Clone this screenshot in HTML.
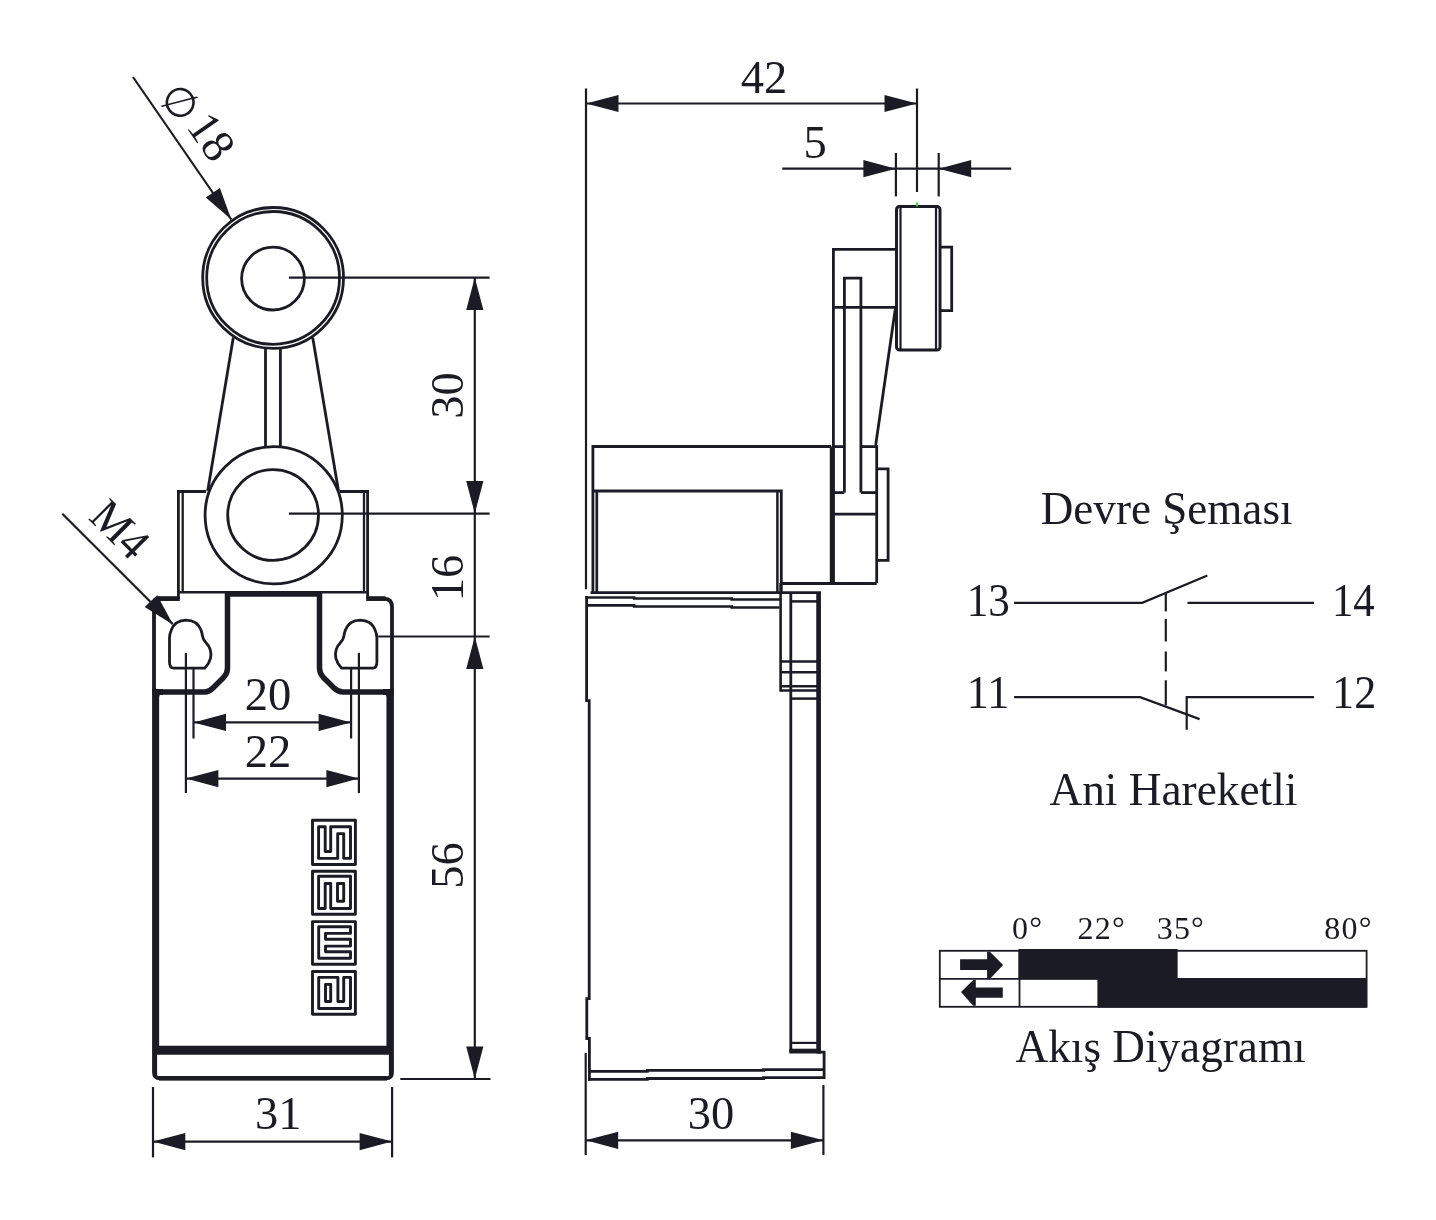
<!DOCTYPE html>
<html><head><meta charset="utf-8"><title>Limit switch</title>
<style>
html,body{margin:0;padding:0;background:#fff;}
svg{display:block;will-change:transform;}
svg text{font-family:"Liberation Serif",serif;fill:#1b1b25;stroke:none;}
</style></head><body>
<svg width="1436" height="1220" viewBox="0 0 1436 1220" stroke="#1b1b25" stroke-linecap="butt" stroke-linejoin="miter">
<rect x="0" y="0" width="1436" height="1220" fill="#fff" stroke="none"/>
<g id="front">
<circle cx="273.1" cy="277.9" r="70.4" stroke-width="2.8" fill="none"/>
<circle cx="273.1" cy="277.9" r="66.4" stroke-width="2.8" fill="none"/>
<circle cx="273" cy="278.6" r="31.4" stroke-width="2.8" fill="none"/>
<line x1="233.3" y1="337.5" x2="207.7" y2="491" stroke-width="2.8" />
<line x1="312.7" y1="337.5" x2="338.5" y2="491" stroke-width="2.8" />
<line x1="265.5" y1="347" x2="265.5" y2="447" stroke-width="2.8" />
<line x1="280.4" y1="347" x2="280.4" y2="447" stroke-width="2.8" />
<circle cx="273.7" cy="515.2" r="68.6" stroke-width="2.8" fill="none"/>
<circle cx="273.1" cy="515" r="45.4" stroke-width="2.8" fill="none"/>
<polyline points="206,491.5 178.4,491.5 178.4,599" stroke-width="2.8" fill="none" />
<line x1="182.7" y1="491.5" x2="182.7" y2="592" stroke-width="2.3" />
<polyline points="340,491.5 367.6,491.5 367.6,599" stroke-width="2.8" fill="none" />
<line x1="364" y1="491.5" x2="364" y2="592" stroke-width="2.3" />
<line x1="178.4" y1="592.2" x2="367.6" y2="592.2" stroke-width="2.6" />
<path d="M179,598.6 H158.5 Q154,598.8 154,603 V1072.3 Q154,1078.3 160,1078.3 H386 Q392,1078.3 392,1072.3 V607 Q392,598.6 384,598.6 H367" stroke-width="3.8" fill="none" />
<line x1="157.5" y1="598.6" x2="179.8" y2="598.6" stroke-width="4.7" />
<line x1="366.2" y1="598.6" x2="385.5" y2="598.6" stroke-width="4.7" />
<line x1="155.5" y1="1054" x2="155.5" y2="1075" stroke-width="3.2" />
<line x1="390.5" y1="1054" x2="390.5" y2="1075" stroke-width="3.2" />
<line x1="159" y1="1078.3" x2="387" y2="1078.3" stroke-width="4.6" />
<line x1="152.2" y1="692" x2="163" y2="692" stroke-width="6" />
<line x1="383" y1="692" x2="393.8" y2="692" stroke-width="6" />
<path d="M156.4,1048.5 V697 Q156.4,692 161,692 H205 Q209,692 213,688 L224,677 Q227.5,673 227.5,668 V594 H319.5 V668 Q319.5,673 323,677 L334,688 Q338,692 343,692 H384.5 Q389.2,692 389.2,697 V1048.5 Z" stroke-width="5.5" fill="none" />
<line x1="154.6" y1="1050.3" x2="391.3" y2="1050.3" stroke-width="8.8" />
<path d="M173.8,668.1 H204.9 Q209,664 210.5,658.4 Q212.5,649 205.8,642.4 Q203.2,640 202.6,636.5 Q202,633 201.1,630.2 Q197,620.3 186.1,620.2 Q175,620.5 171.3,630 Q169.5,634 169.5,638 V662 Q169.5,668.1 173.8,668.1 Z" stroke-width="2.8" fill="none" />
<g transform="translate(546.4 0) scale(-1 1)">
<path d="M173.8,668.1 H204.9 Q209,664 210.5,658.4 Q212.5,649 205.8,642.4 Q203.2,640 202.6,636.5 Q202,633 201.1,630.2 Q197,620.3 186.1,620.2 Q175,620.5 171.3,630 Q169.5,634 169.5,638 V662 Q169.5,668.1 173.8,668.1 Z" stroke-width="2.8" fill="none" />
</g>
<line x1="185.9" y1="652.8" x2="185.9" y2="793" stroke-width="2.2" />
<line x1="193.5" y1="667.8" x2="193.5" y2="738.5" stroke-width="2.2" />
<line x1="358.9" y1="652.8" x2="358.9" y2="793" stroke-width="2.2" />
<line x1="351.1" y1="667.8" x2="351.1" y2="738.5" stroke-width="2.2" />
<line x1="193.5" y1="722.4" x2="351.1" y2="722.4" stroke-width="2.2" />
<polygon points="193.5,722.4 226.0,713.8 226.0,731.0" fill="#1b1b25" stroke="none"/>
<polygon points="351.1,722.4 318.6,731.0 318.6,713.8" fill="#1b1b25" stroke="none"/>
<line x1="185.9" y1="778.6" x2="358.9" y2="778.6" stroke-width="2.2" />
<polygon points="185.9,778.6 218.4,770.0 218.4,787.2" fill="#1b1b25" stroke="none"/>
<polygon points="358.9,778.6 326.4,787.2 326.4,770.0" fill="#1b1b25" stroke="none"/>
<text x="268" y="710.4" font-size="46.5" text-anchor="middle" >20</text>
<text x="268" y="766.8" font-size="46.5" text-anchor="middle" >22</text>
<line x1="400.3" y1="1079" x2="490.5" y2="1079" stroke-width="2.2" />
<line x1="153" y1="1087" x2="153" y2="1157.4" stroke-width="2.2" />
<line x1="392.1" y1="1087" x2="392.1" y2="1157.4" stroke-width="2.2" />
<line x1="152.8" y1="1141.6" x2="392.1" y2="1141.6" stroke-width="2.2" />
<polygon points="152.8,1141.6 185.3,1133.0 185.3,1150.2" fill="#1b1b25" stroke="none"/>
<polygon points="392.1,1141.6 359.6,1150.2 359.6,1133.0" fill="#1b1b25" stroke="none"/>
<text x="278.2" y="1129" font-size="46.5" text-anchor="middle" >31</text>
<line x1="288.9" y1="277.6" x2="489.6" y2="277.6" stroke-width="2.2" />
<line x1="288.9" y1="513.6" x2="489.6" y2="513.6" stroke-width="2.2" />
<line x1="378.2" y1="636.5" x2="489.6" y2="636.5" stroke-width="2.2" />
<line x1="474.8" y1="277.6" x2="474.8" y2="1079" stroke-width="2.2" />
<polygon points="474.8,277.6 483.4,310.1 466.2,310.1" fill="#1b1b25" stroke="none"/>
<polygon points="474.8,513.6 466.2,481.1 483.4,481.1" fill="#1b1b25" stroke="none"/>
<polygon points="474.8,636.5 483.4,669.0 466.2,669.0" fill="#1b1b25" stroke="none"/>
<polygon points="474.8,1079.0 466.2,1046.5 483.4,1046.5" fill="#1b1b25" stroke="none"/>
<text x="462.8" y="395.5" font-size="46.5" text-anchor="middle" transform="rotate(-90 462.8 395.5)" >30</text>
<text x="462.8" y="578" font-size="46.5" text-anchor="middle" transform="rotate(-90 462.8 578)" >16</text>
<text x="462.8" y="865.5" font-size="46.5" text-anchor="middle" transform="rotate(-90 462.8 865.5)" >56</text>
<line x1="133" y1="77" x2="231.3" y2="219.5" stroke-width="2.2" />
<polygon points="231.3,219.5 205.8,197.6 219.9,187.9" fill="#1b1b25" stroke="none"/>
<text transform="translate(180.2 102.3) rotate(36.6)" x="-17.7" y="14.25" font-size="40.7" style="font-family:'DejaVu Sans',sans-serif">∅</text>
<text transform="translate(185.5 126.5) rotate(55)" x="0" y="0" font-size="46.5">18</text>
<line x1="62.3" y1="513.7" x2="172.6" y2="624" stroke-width="2.2" />
<polygon points="173.2,624.8 144.7,607.0 157.2,595.2" fill="#1b1b25" stroke="none"/>
<text transform="translate(109.3 540.3) rotate(45) scale(0.95 1)" x="0" y="0" font-size="46.5" text-anchor="middle" >M4</text>
<rect x="312.5" y="820.3" width="42.9" height="44.2" stroke-width="2.9" fill="none" stroke-linejoin="round"/>
<rect x="312.5" y="871.2" width="42.9" height="43.0" stroke-width="2.9" fill="none" stroke-linejoin="round"/>
<rect x="312.5" y="921.6" width="42.9" height="42.7" stroke-width="2.9" fill="none" stroke-linejoin="round"/>
<rect x="312.5" y="971.5" width="42.9" height="42.8" stroke-width="2.9" fill="none" stroke-linejoin="round"/>
<path d="M318.6,826.7 H325.2 V851.5 H330.7 V826.7 H350.5 V858.4 H343.7 V833.6 H337.7 V858.4 H318.6 Z" stroke-width="2.9" fill="none" stroke-linejoin="round"/>
<path d="M318.6,876.3 H350.5 V908.5 H330.7 V883.5 H325.2 V908.5 H318.6 Z" stroke-width="2.9" fill="none" stroke-linejoin="round"/>
<path d="M337.5,883.5 H343.7 V901.3 H337.5 Z" stroke-width="2.9" fill="none" stroke-linejoin="round"/>
<path d="M318.7,926.7 H350.5 V933.4 H325.5 V939.3 H350.5 V946.1 H325.5 V951.7 H350.5 V958.2 H318.7 Z" stroke-width="2.9" fill="none" stroke-linejoin="round"/>
<path d="M318.7,977.4 H337.9 V1001.5 H343.7 V977.4 H350.5 V1008.5 H318.7 Z" stroke-width="2.9" fill="none" stroke-linejoin="round"/>
<path d="M325.5,984.4 H330.7 V1001.5 H325.5 Z" stroke-width="2.9" fill="none" stroke-linejoin="round"/>
</g>
<g id="side">
<line x1="586" y1="88.5" x2="586" y2="589.3" stroke-width="2.2" />
<line x1="586" y1="103.5" x2="917" y2="103.5" stroke-width="2.2" />
<polygon points="586.0,103.5 618.5,94.9 618.5,112.1" fill="#1b1b25" stroke="none"/>
<polygon points="917.0,103.5 884.5,112.1 884.5,94.9" fill="#1b1b25" stroke="none"/>
<line x1="917" y1="88.5" x2="917" y2="192" stroke-width="2.2" />
<text x="764" y="92.8" font-size="46.5" text-anchor="middle" >42</text>
<line x1="782.3" y1="168.7" x2="1011.2" y2="168.7" stroke-width="2.2" />
<polygon points="895.9,168.7 863.4,177.3 863.4,160.1" fill="#1b1b25" stroke="none"/>
<polygon points="938.7,168.7 971.2,160.1 971.2,177.3" fill="#1b1b25" stroke="none"/>
<line x1="895.9" y1="153" x2="895.9" y2="196.4" stroke-width="2.2" />
<line x1="938.7" y1="153" x2="938.7" y2="196.4" stroke-width="2.2" />
<text x="815" y="157.6" font-size="46.5" text-anchor="middle" >5</text>
<rect x="896.5" y="206.5" width="43.5" height="143.5" stroke-width="3" fill="none" rx="3"/>
<line x1="900.5" y1="207" x2="900.5" y2="350" stroke-width="2.2" />
<line x1="936" y1="207" x2="936" y2="350" stroke-width="2.2" />
<polyline points="940.3,247.2 951.7,247.2 951.7,310.7 940.3,310.7" stroke-width="2.8" fill="none" />
<line x1="917" y1="202.6" x2="917" y2="206.8" stroke-width="1.8" stroke="#3c3"/>
<polyline points="896,249.4 833.4,249.4 833.4,583" stroke-width="2.8" fill="none" />
<line x1="833.4" y1="307.3" x2="896" y2="307.3" stroke-width="2.8" />
<polyline points="844.4,492.6 844.4,278.2 860.9,278.2 860.9,492.6" stroke-width="2.8" fill="none" />
<line x1="895.4" y1="308.2" x2="875.7" y2="445" stroke-width="2.8" />
<line x1="833.4" y1="446.6" x2="844.4" y2="446.6" stroke-width="2.8" />
<line x1="860.9" y1="446.6" x2="876.7" y2="446.6" stroke-width="2.8" />
<line x1="876.7" y1="445" x2="876.7" y2="583" stroke-width="2.8" />
<line x1="833.4" y1="492.6" x2="844.4" y2="492.6" stroke-width="2.8" />
<line x1="860.9" y1="492.6" x2="876.7" y2="492.6" stroke-width="2.8" />
<line x1="833.4" y1="514.1" x2="876.7" y2="514.1" stroke-width="2.8" />
<polyline points="876.7,468.9 888.1,468.9 888.1,560.3 876.7,560.3" stroke-width="2.8" fill="none" />
<polyline points="831,446.5 592.9,446.5 592.9,594" stroke-width="2.8" fill="none" />
<line x1="832.2" y1="446.4" x2="832.2" y2="584.5" stroke-width="4.8" />
<polyline points="592.9,491 781.3,491 781.3,594" stroke-width="2.8" fill="none" />
<line x1="596.8" y1="491" x2="596.8" y2="593" stroke-width="2.7" />
<line x1="777.4" y1="491" x2="777.4" y2="593" stroke-width="2.5" />
<line x1="781.3" y1="583.5" x2="876.7" y2="583.5" stroke-width="2.8" />
<line x1="590.6" y1="592.7" x2="820.9" y2="592.7" stroke-width="2.8" />
<polyline points="586.6,596 586.6,700.7 589.2,700.7 589.2,998.6 586.8,998.6 586.8,1038.5 589.4,1038.5 589.4,1080.8" stroke-width="2.8" fill="none" />
<polyline points="585.2,597.5 634.1,597.5 634.1,598.5 731.7,598.5 731.7,599.5 780.6,599.5" stroke-width="2.6" fill="none" />
<polyline points="586.6,605.4 634.1,605.4 634.1,606.5 731.7,606.5 731.7,607.5 779.5,607.5" stroke-width="2.6" fill="none" />
<line x1="780.6" y1="583" x2="780.6" y2="691.7" stroke-width="2.6" />
<line x1="790.8" y1="593" x2="790.8" y2="1051.8" stroke-width="2.8" />
<line x1="818.6" y1="592" x2="818.6" y2="1053.4" stroke-width="4.7" />
<line x1="780.6" y1="661.5" x2="817" y2="661.5" stroke-width="2.5" />
<line x1="780.6" y1="672.3" x2="817" y2="672.3" stroke-width="2.5" />
<line x1="780.6" y1="686.2" x2="817" y2="686.2" stroke-width="2.5" />
<line x1="780.6" y1="690.5" x2="817" y2="690.5" stroke-width="2.5" />
<line x1="790.8" y1="601.4" x2="817" y2="601.4" stroke-width="2.5" />
<line x1="790.8" y1="698.6" x2="817" y2="698.6" stroke-width="2.5" />
<line x1="790.8" y1="1042.9" x2="817" y2="1042.9" stroke-width="2.2" />
<line x1="789.3" y1="1051.1" x2="820.9" y2="1051.1" stroke-width="4.8" />
<polyline points="818,1052.2 824.1,1052.2 824.1,1077.6 763.6,1077.6 763.6,1078.5 647.3,1078.5 647.3,1079.4 588,1079.4" stroke-width="2.8" fill="none" />
<polyline points="589.4,1071.4 647.3,1071.4 647.3,1070.4 763.6,1070.4 763.6,1069.6 824.1,1069.6" stroke-width="2.8" fill="none" />
<line x1="585.7" y1="1053" x2="585.7" y2="1155" stroke-width="2.2" />
<line x1="823.4" y1="1085" x2="823.4" y2="1155" stroke-width="2.2" />
<line x1="585.7" y1="1140.3" x2="823.4" y2="1140.3" stroke-width="2.2" />
<polygon points="585.7,1140.3 618.2,1131.7 618.2,1148.9" fill="#1b1b25" stroke="none"/>
<polygon points="823.4,1140.3 790.9,1148.9 790.9,1131.7" fill="#1b1b25" stroke="none"/>
<text x="711" y="1128.8" font-size="46.5" text-anchor="middle" >30</text>
</g>
<g id="right">
<text transform="translate(1166.6 524) scale(0.96 1)" x="0" y="0" font-size="47" text-anchor="middle" >Devre Şeması</text>
<text transform="translate(988.3 616.2) scale(0.93 1)" x="0" y="0" font-size="46.5" text-anchor="middle" >13</text>
<text transform="translate(1353.3 616) scale(0.92 1)" x="0" y="0" font-size="46.5" text-anchor="middle" >14</text>
<text transform="translate(988 707.7) scale(0.95 1)" x="0" y="0" font-size="46.5" text-anchor="middle" >11</text>
<text transform="translate(1354.2 707.7) scale(0.95 1)" x="0" y="0" font-size="46.5" text-anchor="middle" >12</text>
<polyline points="1014.1,602.8 1142.2,602.8 1207.4,575.5" stroke-width="2.2" fill="none" />
<line x1="1187.5" y1="602.8" x2="1314" y2="602.8" stroke-width="2.2" />
<line x1="1165.8" y1="593.2" x2="1165.8" y2="611.4" stroke-width="2.2" />
<line x1="1165.8" y1="619" x2="1165.8" y2="641.5" stroke-width="2.2" />
<line x1="1165.8" y1="651.5" x2="1165.8" y2="671.4" stroke-width="2.2" />
<line x1="1165.8" y1="680.3" x2="1165.8" y2="705.3" stroke-width="2.2" />
<polyline points="1014.1,697.2 1140.2,697.2 1199.6,719.1" stroke-width="2.2" fill="none" />
<polyline points="1314,697.2 1186.7,697.2 1186.7,729.7" stroke-width="2.2" fill="none" />
<text transform="translate(1173.4 804.6) scale(0.964 1)" x="0" y="0" font-size="47" text-anchor="middle" >Ani Hareketli</text>
<text x="1012" y="939.2" font-size="32" text-anchor="start" letter-spacing="1.2">0°</text>
<text x="1077.5" y="939.2" font-size="32" text-anchor="start" letter-spacing="1.2">22°</text>
<text x="1156.7" y="939.2" font-size="32" text-anchor="start" letter-spacing="1.2">35°</text>
<text x="1324.3" y="939.2" font-size="32" text-anchor="start" letter-spacing="1.2">80°</text>
<rect x="939.8" y="950.8" width="426.8" height="56" stroke-width="1.8" fill="none"/>
<line x1="939.8" y1="978.8" x2="1366.6" y2="978.8" stroke-width="1.8" />
<line x1="1019.5" y1="950.8" x2="1019.5" y2="1006.8" stroke-width="1.8" />
<rect x="1018.5" y="949" width="159.1" height="30.3" fill="#1b1b25" stroke="none"/>
<rect x="1097.4" y="978" width="269.2" height="29.6" fill="#1b1b25" stroke="none"/>
<polygon points="960.1,959.2 987.1,959.2 987.1,951.8 989.9,951.8 1003.1,965.1 990.6,978.2 987.1,978.2 987.1,969.9 960.1,969.9" fill="#1b1b25" stroke="none"/>
<polygon points="1002.8,987.4 975.8,987.4 975.8,980 973.2,980 961,991.9 973.2,1005.8 975.8,1005.8 975.8,997.8 1002.8,997.8" fill="#1b1b25" stroke="none"/>
<text transform="translate(1160.6 1061.8) scale(0.962 1)" x="0" y="0" font-size="47" text-anchor="middle" >Akış Diyagramı</text>
</g>
</svg>
</body></html>
